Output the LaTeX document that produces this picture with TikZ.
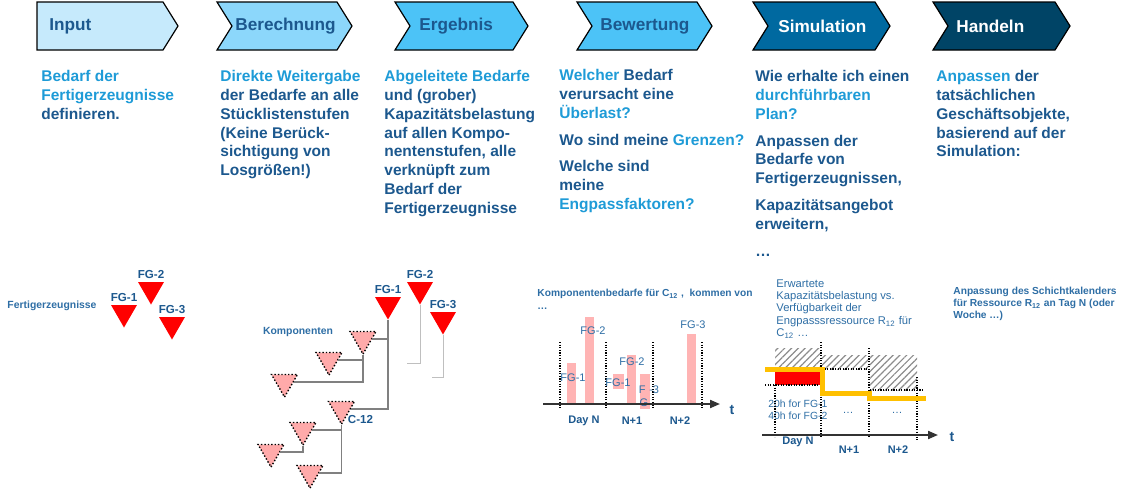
\documentclass[tikz,border=0pt]{standalone}
\usepackage{fontspec}
\setmainfont{Liberation Sans}
\usetikzlibrary{positioning,shapes.geometric,arrows.meta,patterns.meta}

\definecolor{chevA}{RGB}{198,234,252}
\definecolor{chevB}{RGB}{140,215,251}
\definecolor{chevC}{RGB}{76,195,247}
\definecolor{chevD}{RGB}{0,105,160}
\definecolor{chevE}{RGB}{0,68,102}
\definecolor{txtdark}{RGB}{28,88,142}
\definecolor{txtlight}{RGB}{30,155,215}
\definecolor{txtmid}{RGB}{46,110,165}
\definecolor{pinkfill}{RGB}{255,170,170}
\definecolor{barpink}{RGB}{255,180,180}
\definecolor{ygold}{RGB}{255,192,0}

\begin{document}
\begin{tikzpicture}[
  x=0.5pt, y=-0.5pt,
  chev/.style={draw=black, line width=0.6pt},
  chevtxt/.style={anchor=west, inner sep=0, font=\bfseries\fontsize{8.6}{10}\selectfont, text=txtdark},
  body/.style={anchor=north west, inner sep=0, align=left, text=txtdark, font=\bfseries\fontsize{7.75}{9.4}\selectfont},
  fgtri/.style={regular polygon, regular polygon sides=3, shape border rotate=180, minimum size=15pt, inner sep=0, fill=red},
  kpnt/.style={fgtri, fill=pinkfill, draw=black, line width=0.7pt, densely dotted},
  fglbl/.style={inner sep=0.5pt, text=txtdark, font=\bfseries\fontsize{5.8}{6}\selectfont},
  smalltxt/.style={inner sep=0, text=txtmid, font=\bfseries\fontsize{5.2}{6}\selectfont},
  note/.style={anchor=north west, inner sep=0, align=left, text=txtmid},
  tree/.style={draw=black!50, line width=0.75pt},
  treelt/.style={draw=black!25, line width=0.5pt},
  cbar/.style={fill=barpink},
  barlbl/.style={inner sep=0, text=txtmid, font=\fontsize{5.5}{6}\selectfont},
  daylbl/.style={inner sep=0, text=txtdark, font=\bfseries\fontsize{5.5}{6}\selectfont},
  dotl/.style={draw=black, line width=0.6pt, dash pattern=on 0.6pt off 0.7pt},
  taxis/.style={draw=black!80, line width=1pt, -{Triangle[length=5pt, width=4pt]}},
  hatch/.style={pattern={Lines[angle=45, distance=2.4pt, line width=0.6pt]}, pattern color=black!45},
]
\useasboundingbox (0,0) rectangle (1145,488);

\begin{scope}
	\draw [chev, fill=chevA] (37,2) -- (163,2) -- (178,26) -- (163,50) -- (37,50) -- cycle;
	\draw [chev, fill=chevB] (217,2) -- (337,2) -- (352,26) -- (337,50) -- (217,50) -- (232,26) -- cycle;
	\draw [chev, fill=chevC] (395,2) -- (513,2) -- (528,26) -- (513,50) -- (395,50) -- (410,26) -- cycle;
	\draw [chev, fill=chevC] (577,2) -- (697,2) -- (712,26) -- (697,50) -- (577,50) -- (592,26) -- cycle;
	\draw [chev, fill=chevD] (753,2) -- (875,2) -- (890,26) -- (875,50) -- (753,50) -- (768,26) -- cycle;
	\draw [chev, fill=chevE] (933,2) -- (1055,2) -- (1070,26) -- (1055,50) -- (933,50) -- (948,26) -- cycle;

	\node [chevtxt] (hInput) at (49,26) {Input};
	\node [chevtxt] (hBer) at (235,26) {Berechnung};
	\node [chevtxt] (hErg) at (419,26) {Ergebnis};
	\node [chevtxt] (hBew) at (600,26) {Bewertung};
	\node [chevtxt, text=white] (hSim) at (778,26) {Simulation};
	\node [chevtxt, text=white] (hHan) at (956,26) {Handeln};
\end{scope}

\begin{scope}
	\node [body] (tInput) at (41,70) {\textcolor{txtlight}{Bedarf der}\\
		\textcolor{txtlight}{Fertigerzeugnisse}\\
		definieren.};
	\node [body] (tBer) at (220,70) {\textcolor{txtlight}{Direkte Weitergabe}\\
		der Bedarfe an alle\\
		Stücklistenstufen\\
		(Keine Berück-\\
		sichtigung von\\
		Losgrößen!)};
	\node [body] (tErg) at (384,70) {\textcolor{txtlight}{Abgeleitete Bedarfe}\\
		und (grober)\\
		Kapazitätsbelastung\\
		auf allen Kompo-\\
		nentenstufen, alle\\
		verknüpft zum\\
		Bedarf der\\
		Fertigerzeugnisse};
	\node [body] (tBew) at (559,69) {\textcolor{txtlight}{Welcher} Bedarf\\
		verursacht eine\\
		\textcolor{txtlight}{Überlast?}\\[4pt]
		Wo sind meine \textcolor{txtlight}{Grenzen?}\\[4pt]
		Welche sind\\
		meine\\
		\textcolor{txtlight}{Engpassfaktoren?}};
	\node [body] (tSim) at (755,70) {Wie erhalte ich einen\\
		\textcolor{txtlight}{durchführbaren}\\
		\textcolor{txtlight}{Plan?}\\[4pt]
		Anpassen der\\
		Bedarfe von\\
		Fertigerzeugnissen,\\[4pt]
		Kapazitätsangebot\\
		erweitern,\\[4pt]
		\ldots};
	\node [body] (tHan) at (936,70) {\textcolor{txtlight}{Anpassen} der\\
		tatsächlichen\\
		Geschäftsobjekte,\\
		basierend auf der\\
		Simulation:};
\end{scope}

\begin{scope}
	\node [smalltxt] (lFert) at (52,306) {Fertigerzeugnisse};
	\node [fgtri] (a1) at (124,312.5) {};
	\node [fgtri] (a2) at (151,289.5) {};
	\node [fgtri] (a3) at (172,324.5) {};
	\node [fglbl, above=0.9pt of a1.north] (la1) {FG-1};
	\node [fglbl, above=0.9pt of a2.north] (la2) {FG-2};
	\node [fglbl, above=0.9pt of a3.north] (la3) {FG-3};
\end{scope}

\begin{scope}
	\node [fgtri] (f1) at (388,304.5) {};
	\node [fgtri] (f2) at (420,289.5) {};
	\node [fgtri] (f3) at (443,319.5) {};
	\node [fglbl, above=0.9pt of f1.north] (lf1) {FG-1};
	\node [fglbl, above=0.9pt of f2.north] (lf2) {FG-2};
	\node [fglbl, above=0.9pt of f3.north] (lf3) {FG-3};

	\node [kpnt] (k1) at (363,339) {};
	\node [kpnt] (k2) at (329,360) {};
	\node [kpnt] (k3) at (284.5,382) {};
	\node [kpnt] (c12) at (341.5,409) {};
	\node [kpnt] (k5) at (303,430) {};
	\node [kpnt] (k6) at (271,452) {};
	\node [kpnt] (k7) at (310,473) {};
	\node [fglbl, anchor=south west, xshift=2.5pt] (lc12) at (c12.corner 1) {C-12};
	\node [smalltxt] (lKomp) at (298,332) {Komponenten};

	\coordinate (e2) at (407,363);
	\coordinate (e3) at (432,377);
	\draw [tree] (f1.corner 1) |- (k1.east);
	\draw [tree] (f1.corner 1) |- (c12.east);
	\draw [tree] (k1.corner 1) |- (k2.east);
	\draw [tree] (k1.corner 1) |- (k3.east);
	\draw [tree] (c12.corner 1) |- (k5.east);
	\draw [tree] (c12.corner 1) |- (k7.east);
	\draw [tree] (k5.corner 1) |- (k6.east);
	\draw [treelt] (f2.corner 1) |- (e2);
	\draw [treelt] (f3.corner 1) |- (e3);
\end{scope}

\begin{scope}
	\node [note, font=\bfseries\fontsize{5.1}{6.5}\selectfont] (lC12) at (537,289)
		{Komponentenbedarfe für C\textsubscript{12} ,\ \ kommen von\\ \ldots};

	\path [cbar] (567,363) rectangle (576,404);
	\path [cbar] (585,317) rectangle (594,404);
	\path [cbar] (613,374) rectangle (624,389);
	\path [cbar] (627,355) rectangle (636,404);
	\path [cbar] (640,374) rectangle (650,409);
	\path [cbar] (687,334) rectangle (696,404);

	\draw [dotl] (560,342) -- (560,408);
	\draw [dotl] (606,342) -- (606,408);
	\draw [dotl] (653,342) -- (653,408);
	\draw [dotl] (702,342) -- (702,408);

	\node [barlbl] (b1) at (573,378) {FG-1};
	\node [barlbl] (b2) at (593,331) {FG-2};
	\node [barlbl] (b3) at (618,383) {FG-1};
	\node [barlbl] (b4) at (632,362) {FG-2};
	\node [barlbl] (b5) at (649,390) {F\,\,-3};
	\node [barlbl] (b6) at (644,403) {G};
	\node [barlbl] (b7) at (693,325) {FG-3};

	\coordinate (x3a) at (543,404);
	\coordinate (x3b) at (720,404);
	\draw [taxis] (x3a) -- (x3b);
	\node [daylbl, font=\bfseries\fontsize{7}{8}\selectfont] (t3) at (732,410) {t};
	\node [daylbl] (d3a) at (584,421) {Day N};
	\node [daylbl] (d3b) at (632,421) {N+1};
	\node [daylbl] (d3c) at (680,421) {N+2};
\end{scope}

\begin{scope}
	\node [note, font=\fontsize{5.6}{6.2}\selectfont] (lErw) at (776,279)
		{Erwartete\\
		Kapazitätsbelastung vs.\\
		Verfügbarkeit der\\
		Engpasssressource R\textsubscript{12} für\\
		C\textsubscript{12} \ldots};

	\path [hatch] (775,348) rectangle (820,368);
	\path [hatch] (822,355) rectangle (868,369);
	\path [hatch] (870,355) rectangle (917,390);
	\fill [red] (775,372) rectangle (820,385);

	\node [note, font=\fontsize{5.2}{6}\selectfont] (lh) at (768,400)
		{20h for FG-1\\ 40h for FG-2};
	\node [barlbl] (dd1) at (848,413) {\ldots};
	\node [barlbl] (dd2) at (897,413) {\ldots};

	\draw [dotl] (765,385) -- (820,385);
	\draw [dotl] (822,369) -- (868,369);
	\draw [dotl] (870,390) -- (923,390);
	\draw [dotl] (775,385) -- (775,437);
	\draw [dotl] (821,342) -- (821,437);
	\draw [dotl] (869,348) -- (869,437);
	\draw [dotl] (917,377) -- (917,440);

	\draw [ygold, line width=2.5pt] (765,369) -| (822,393) -| (869,398) -- (926,398);

	\coordinate (x4a) at (762,435);
	\coordinate (x4b) at (938,435);
	\draw [taxis] (x4a) -- (x4b);
	\node [daylbl, font=\bfseries\fontsize{7}{8}\selectfont] (t4) at (952,437) {t};
	\node [daylbl] (d4a) at (798,442) {Day N};
	\node [daylbl] (d4b) at (849,450) {N+1};
	\node [daylbl] (d4c) at (898,450) {N+2};
\end{scope}

\node [note, font=\bfseries\fontsize{5.1}{5.9}\selectfont] (lSchicht) at (953,287)
	{Anpassung des Schichtkalenders\\
	für Ressource R\textsubscript{12} an Tag N (oder\\
	Woche \ldots)};

\end{tikzpicture}
\end{document}
